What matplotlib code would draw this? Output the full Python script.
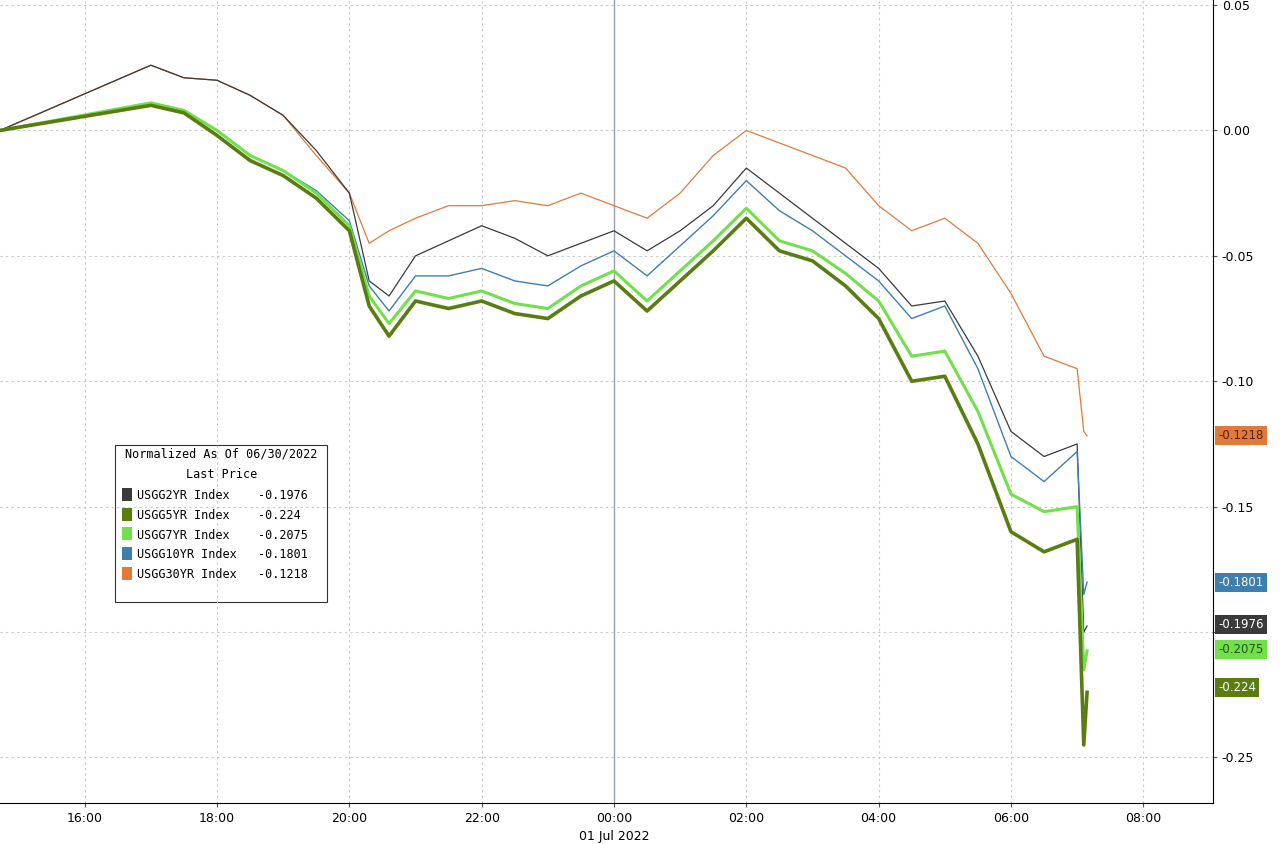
import numpy as np
import matplotlib.pyplot as plt

# hours since 00:00 on 30 Jun 2022
t_start = 14.72
times = [17, 17.5, 18, 18.5, 19, 19.5, 20, 20.3, 20.6, 21, 21.5, 22, 22.5, 23, 23.5,
         24, 24.5, 25, 25.5, 26, 26.5, 27, 27.5, 28, 28.5, 29, 29.5, 30, 30.5, 31, 31.1, 31.15]

usgg2 = [0.026, 0.021, 0.020, 0.014, 0.006, -0.008, -0.025, -0.060, -0.066, -0.050, -0.044, -0.038,
         -0.043, -0.050, -0.045, -0.040, -0.048, -0.040, -0.030, -0.015, -0.025, -0.035, -0.045,
         -0.055, -0.070, -0.068, -0.090, -0.120, -0.130, -0.125, -0.200, -0.1976]
usgg5 = [0.010, 0.007, -0.002, -0.012, -0.018, -0.027, -0.040, -0.070, -0.082, -0.068, -0.071, -0.068,
         -0.073, -0.075, -0.066, -0.060, -0.072, -0.060, -0.048, -0.035, -0.048, -0.052, -0.062,
         -0.075, -0.100, -0.098, -0.125, -0.160, -0.168, -0.163, -0.245, -0.224]
usgg7 = [0.011, 0.008, 0.0, -0.010, -0.016, -0.025, -0.038, -0.066, -0.077, -0.064, -0.067, -0.064,
         -0.069, -0.071, -0.062, -0.056, -0.068, -0.056, -0.044, -0.031, -0.044, -0.048, -0.057,
         -0.068, -0.090, -0.088, -0.112, -0.145, -0.152, -0.150, -0.215, -0.2075]
usgg10 = [0.011, 0.008, 0.0, -0.010, -0.016, -0.024, -0.036, -0.062, -0.072, -0.058, -0.058, -0.055,
          -0.060, -0.062, -0.054, -0.048, -0.058, -0.046, -0.034, -0.020, -0.032, -0.040, -0.050,
          -0.060, -0.075, -0.070, -0.095, -0.130, -0.140, -0.128, -0.185, -0.1801]
usgg30 = [0.026, 0.021, 0.020, 0.014, 0.006, -0.010, -0.025, -0.045, -0.040, -0.035, -0.030, -0.030,
          -0.028, -0.030, -0.025, -0.030, -0.035, -0.025, -0.010, 0.0, -0.005, -0.010, -0.015,
          -0.030, -0.040, -0.035, -0.045, -0.065, -0.090, -0.095, -0.120, -0.1218]

names = ['USGG2YR Index', 'USGG5YR Index', 'USGG7YR Index', 'USGG10YR Index', 'USGG30YR Index']
lasts = ['-0.1976', '-0.224', '-0.2075', '-0.1801', '-0.1218']
tags = ['-0.1976', '-0.224', '-0.2075', '-0.1801', '-0.1218']
colors = ['#3a3a3a', '#5a7d12', '#72e04a', '#3f7fb0', '#e07a3a']
widths = [0.9, 2.6, 2.2, 1.0, 0.9]
series = [usgg2, usgg5, usgg7, usgg10, usgg30]

xticks = [16, 18, 20, 22, 24, 26, 28, 30, 32]
xlabels = ['16:00', '18:00', '20:00', '22:00', '00:00', '02:00', '04:00', '06:00', '08:00']
yticks = [0.05, 0.0, -0.05, -0.10, -0.15, -0.20, -0.25]

fig = plt.figure(figsize=(12.82, 8.44), dpi=100)
ax = fig.add_axes([0.0, 0.049, 0.946, 0.951])
ax.set_xlim(14.72, 33.05)
ax.set_ylim(-0.268, 0.052)

for x in xticks:
    if x == 24:
        ax.axvline(x, color='#9aa0b0', lw=1.0)
    else:
        ax.axvline(x, color='#c8c8c8', lw=0.8, ls=(0, (2, 3)))
for y in yticks:
    ax.axhline(y, color='#c8c8c8', lw=0.8, ls=(0, (2, 3)))

order = [4, 0, 3, 2, 1]
for i in order:
    ax.plot([t_start] + times, [0.0] + series[i], color=colors[i], lw=widths[i])

ax.yaxis.tick_right()
ax.set_yticks(yticks)
ax.set_yticklabels(['0.05', '0.00', '-0.05', '-0.10', '-0.15', '', '-0.25'], fontsize=9)
ax.set_xticks(xticks)
ax.set_xticklabels(xlabels, fontsize=9)
ax.text(24, -0.279, '01 Jul 2022', ha='center', va='top', fontsize=9)
for s in ['top', 'left']:
    ax.spines[s].set_visible(False)
ax.tick_params(length=3, color='#555555')

# last value tags on the right axis
tag_y = [-0.197, -0.222, -0.207, -0.1801, -0.1218]
text_col = ['white', 'white', '#225511', 'white', '#552200']
for i in range(5):
    ax.annotate(tags[i], xy=(1.0, tag_y[i]), xycoords=('axes fraction', 'data'),
                xytext=(4, 0), textcoords='offset points', va='center', ha='left', fontsize=8.5,
                color=text_col[i],
                bbox=dict(boxstyle='square,pad=0.25', fc=colors[i], ec='none'))

# legend box
lines = ['Normalized As Of 06/30/2022', 'Last Price']
lx, ly = 0.095, 0.425
box = plt.Rectangle((lx, ly - 0.175), 0.175, 0.195, transform=ax.transAxes,
                    fc='white', ec='#333333', lw=0.8)
ax.add_patch(box)
ax.text(lx + 0.0875, ly + 0.005, lines[0], transform=ax.transAxes, ha='center', fontsize=8.5,
        family='DejaVu Sans Mono')
ax.text(lx + 0.0875, ly - 0.02, lines[1], transform=ax.transAxes, ha='center', fontsize=8.5,
        family='DejaVu Sans Mono')
for i in range(5):
    yy = ly - 0.047 - i * 0.0245
    ax.add_patch(plt.Rectangle((lx + 0.006, yy - 0.002), 0.008, 0.016, transform=ax.transAxes,
                               fc=colors[i], ec='none'))
    ax.text(lx + 0.018, yy, names[i], transform=ax.transAxes, fontsize=8.5,
            family='DejaVu Sans Mono')
    ax.text(lx + 0.118, yy, lasts[i], transform=ax.transAxes, fontsize=8.5,
            family='DejaVu Sans Mono')

fig.savefig('out.png', dpi=100)
